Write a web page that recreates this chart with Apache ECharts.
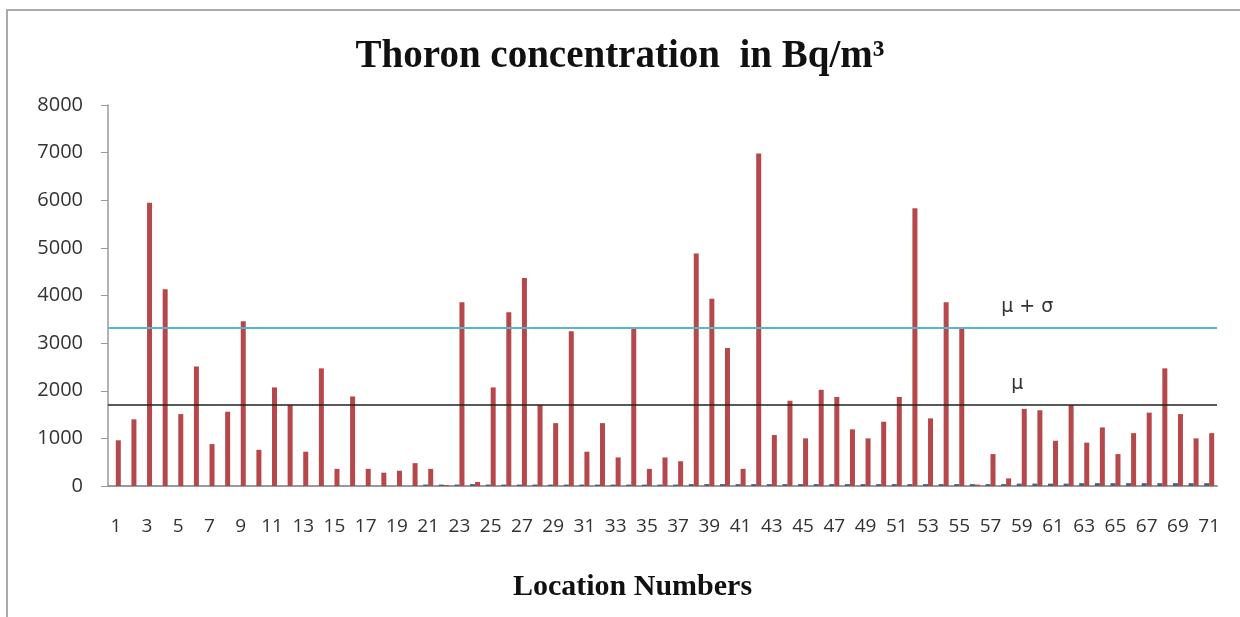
<!DOCTYPE html>
<html>
<head>
<meta charset="utf-8">
<script src="https://cdn.jsdelivr.net/npm/echarts@6/dist/echarts.min.js"></script>
<style>
    html, body {margin: 0; padding: 0; background: #fff;}
    #chart {width: 1240px; height: 617px;}
</style>
</head>
<body>
<div id="chart"></div>
<script>
    // location numbers 1..71
    var locations = ['1', '2', '3', '4', '5', '6', '7', '8', '9', '10',
        '11', '12', '13', '14', '15', '16', '17', '18', '19', '20',
        '21', '22', '23', '24', '25', '26', '27', '28', '29', '30',
        '31', '32', '33', '34', '35', '36', '37', '38', '39', '40',
        '41', '42', '43', '44', '45', '46', '47', '48', '49', '50',
        '51', '52', '53', '54', '55', '56', '57', '58', '59', '60',
        '61', '62', '63', '64', '65', '66', '67', '68', '69', '70', '71'];

    // small dark bars sitting at the base of each location
    var baseValues = [0, 0, 0, 0, 0, 0, 0, 0, 0, 0,
        0, 0, 0, 0, 0, 0, 0, 0, 0, 0,
        30, 30, 30, 40, 30, 30, 30, 30, 30, 30,
        30, 30, 30, 30, 30, 30, 30, 40, 40, 40,
        40, 40, 40, 40, 40, 40, 40, 40, 40, 40,
        40, 40, 40, 40, 40, 40, 40, 40, 50, 50,
        50, 50, 60, 60, 60, 60, 60, 60, 60, 60, 60];

    // thoron concentration, Bq/m3
    var thoron = [960, 1400, 5950, 4130, 1510, 2510, 880, 1560, 3460, 760,
        2070, 1700, 720, 2470, 360, 1880, 360, 280, 320, 480,
        360, 20, 3860, 85, 2070, 3650, 4370, 1700, 1320, 3250,
        720, 1320, 600, 3310, 360, 600, 520, 4880, 3930, 2900,
        360, 6980, 1070, 1790, 1000, 2020, 1870, 1190, 1000, 1350,
        1870, 5830, 1420, 3860, 3310, 30, 670, 160, 1620, 1590,
        950, 1700, 910, 1230, 670, 1110, 1540, 2470, 1510, 1000, 1110];

    var mean = 1700;
    var meanPlusSigma = 3320;
    var yTicks = [0, 1000, 2000, 3000, 4000, 5000, 6000, 7000, 8000];

    var chart = echarts.init(document.getElementById('chart'));
    var option = {
        backgroundColor: '#fff',
        animation: false,
        title: {
            text: 'Thoron concentration  in Bq/m\u00b3',
            left: 'center',
            top: 32,
            textStyle: {fontFamily: 'Liberation Serif', fontWeight: 'bold', fontSize: 39, color: '#111'}
        },
        graphic: [{
            type: 'rect',
            shape: {x: 7, y: 10, width: 1250, height: 620},
            style: {fill: 'none', stroke: '#aaa', lineWidth: 2}
        }],
        grid: {left: 108, right: 23, top: 105, bottom: 131},
        xAxis: {
            type: 'category',
            data: locations,
            name: 'Location Numbers',
            nameLocation: 'middle',
            nameGap: 86,
            nameTextStyle: {
                fontFamily: 'Liberation Serif', fontWeight: 'bold', fontSize: 30, color: '#111',
                padding: [0, 60, 0, 0]
            },
            axisLine: {lineStyle: {color: '#999', width: 2}},
            axisTick: {show: false},
            axisLabel: {interval: 1, margin: 31, fontFamily: 'Open Sans', fontSize: 19, color: '#333'}
        },
        yAxis: {
            type: 'value',
            min: yTicks[0],
            max: yTicks[yTicks.length - 1],
            interval: 1000,
            axisLine: {show: true, lineStyle: {color: '#999', width: 1.5}},
            axisTick: {show: true, length: 7, lineStyle: {color: '#999'}},
            splitLine: {show: false},
            axisLabel: {
                margin: 25,
                fontFamily: 'Open Sans',
                fontSize: 20,
                color: '#333',
                formatter: function (v) { return String(v); }
            }
        },
        series: [{
            type: 'bar',
            data: baseValues,
            barWidth: 5,
            barGap: 0,
            itemStyle: {color: '#4a5f80'}
        }, {
            type: 'bar',
            data: thoron,
            barWidth: 5,
            itemStyle: {color: '#b4484a'},
            markLine: {
                silent: true,
                symbol: 'none',
                label: {show: false},
                data: [
                    {yAxis: meanPlusSigma, lineStyle: {color: '#55b6d2', width: 2, type: 'solid'}},
                    {yAxis: mean, lineStyle: {color: '#222', width: 1.5, type: 'solid'}}
                ]
            },
            markPoint: {
                silent: true,
                symbol: 'circle',
                symbolSize: 0,
                label: {fontFamily: 'DejaVu Sans', fontSize: 19, color: '#333'},
                data: [
                    {coord: ['59', meanPlusSigma], label: {formatter: '\u03bc + \u03c3', offset: [3, -21]}},
                    {coord: ['59', mean], label: {formatter: '\u03bc', offset: [-7, -21]}}
                ]
            }
        }]
    };
    chart.setOption(option);
</script>
</body>
</html>
